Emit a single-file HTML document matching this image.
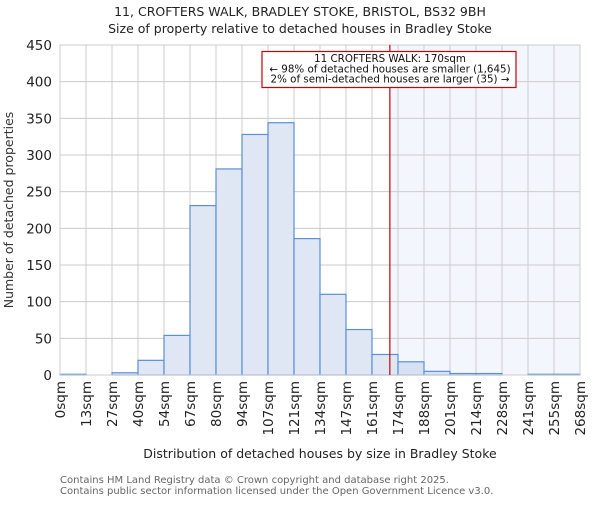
<!DOCTYPE html>
<html><head><meta charset="utf-8"><style>body{margin:0;background:#fff}svg{font-family:"DejaVu Sans","Liberation Sans",sans-serif}</style></head>
<body>
<svg id="chart" width="600" height="500" xmlns="http://www.w3.org/2000/svg">
<text x="300" y="16" text-anchor="middle" font-size="12.5" fill="#222">11, CROFTERS WALK, BRADLEY STOKE, BRISTOL, BS32 9BH</text>
<text x="300" y="33" text-anchor="middle" font-size="12.5" fill="#222">Size of property relative to detached houses in Bradley Stoke</text>
<g id="plot"></g>
<text x="320" y="458" text-anchor="middle" font-size="12.5" fill="#222">Distribution of detached houses by size in Bradley Stoke</text>
<text transform="translate(13,210) rotate(-90)" text-anchor="middle" font-size="12.5" fill="#333">Number of detached properties</text>
<text x="60" y="483" font-size="10" fill="#666">Contains HM Land Registry data © Crown copyright and database right 2025.</text>
<text x="60" y="494" font-size="10" fill="#666">Contains public sector information licensed under the Open Government Licence v3.0.</text>
</svg>
<script>
const binLabels=["0sqm","13sqm","27sqm","40sqm","54sqm","67sqm","80sqm","94sqm","107sqm","121sqm","134sqm","147sqm","161sqm","174sqm","188sqm","201sqm","214sqm","228sqm","241sqm","255sqm","268sqm"];
const counts=[1,0,3,20,54,231,281,328,344,186,110,62,28,18,5,2,2,0,1,1];
const yTicks=[0,50,100,150,200,250,300,350,400,450];
const binWidth=13.4;
const propertySize=170;
const NS="http://www.w3.org/2000/svg";
const L=60,R=580,T=45,B=375,yMax=450;
const nb=counts.length;
const xs=v=>L+(v/(binWidth*nb))*(R-L);
const xi=i=>L+i*(R-L)/nb;
const ys=v=>B-v/yMax*(B-T);
const g=document.getElementById('plot');
function mk(t,a){const e=document.createElementNS(NS,t);for(const k in a)e.setAttribute(k,a[k]);g.appendChild(e);return e;}
const px=xs(propertySize);
let sh=mk('rect',{x:px,y:T,width:R-px,height:B-T,fill:'#f4f6fd'});


yTicks.forEach(v=>{
 let l=mk('line',{x1:L,x2:R,y1:ys(v),y2:ys(v),stroke:'#cccccc','stroke-width':1});
 
 
 let t=mk('text',{x:L-8,y:ys(v)+5,'text-anchor':'end','font-size':13.5,fill:'#222'});
 t.textContent=v;
 
 
});
binLabels.forEach((s,i)=>{
 let l=mk('line',{x1:xi(i),x2:xi(i),y1:T,y2:B,stroke:'#cccccc','stroke-width':1});
 
 
 let t=mk('text',{transform:`translate(${xi(i)+5},381) rotate(-90)`,'text-anchor':'end','font-size':13.5,fill:'#222'});
 t.textContent=s;
 
 
});
counts.forEach((c,i)=>{
 if(c<=0)return;
 let r=mk('rect',{x:xi(i),y:ys(c),width:xi(i+1)-xi(i),height:B-ys(c),fill:xi(i)>=px?'#d7e1f3':'#dfe7f4',stroke:'#5b8fd6','stroke-width':1.2});
 
 
});
let ax=mk('rect',{x:L,y:T,width:R-L,height:B-T,fill:'none',stroke:'#cccccc'});


let ml=mk('line',{x1:px,x2:px,y1:T,y2:B,stroke:'#cc0000','stroke-width':1.2});


let box=mk('rect',{x:262,y:51.5,width:254,height:36,fill:'#fff',stroke:'#cc0000','stroke-width':1.2});


["11 CROFTERS WALK: 170sqm","← 98% of detached houses are smaller (1,645)","2% of semi-detached houses are larger (35) →"].forEach((s,k)=>{
 let t=mk('text',{x:390,y:62+k*10.3,'text-anchor':'middle','font-size':10.3,fill:'#111'});
 t.textContent=s;
 
 
});
</script>
</body></html>
